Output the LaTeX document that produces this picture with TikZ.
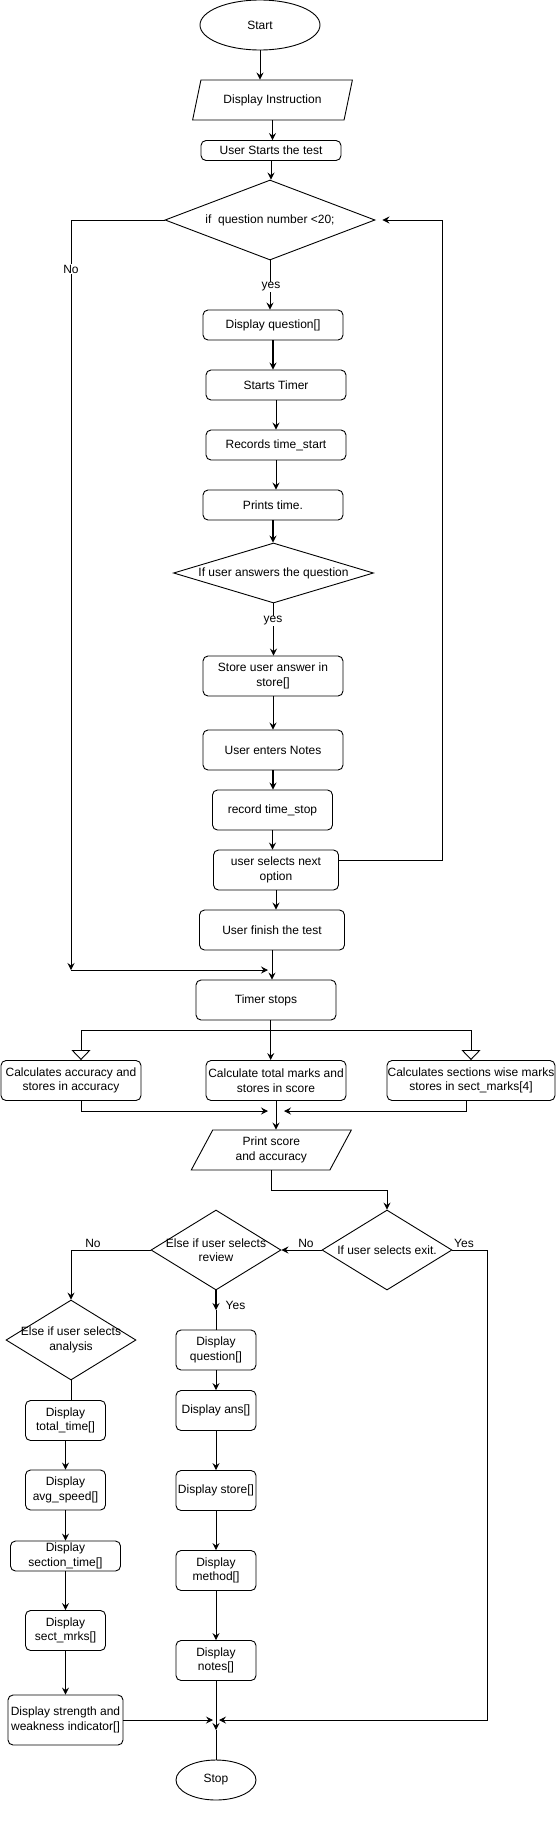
\documentclass[tikz,border=0pt]{standalone}
\usepackage{fontspec}
\setmainfont{Liberation Sans}
\usetikzlibrary{shapes.geometric, arrows.meta}

\begin{document}
\begin{tikzpicture}[
    x=1pt, y=-1pt,
    line width=0.9pt,
    every node/.append style={font=\fontsize{12pt}{14.5pt}\selectfont},
    every label/.append style={align=center},
    startstop/.style={draw, ellipse, inner sep=0pt},
    process/.style={draw, rounded corners=5pt, align=center, inner sep=0pt},
    io/.style={draw, trapezium, trapezium stretches=true, trapezium left angle=63, trapezium right angle=117, align=center, inner sep=0pt},
    decision/.style={draw, diamond, inner sep=0pt},
    arrow/.style={draw, -{Stealth[length=7pt, width=7pt, inset=2.5pt]}},
    thickarrow/.style={arrow, line width=1.6pt},
    openarrow/.style={draw, -{Triangle[open, length=10pt, width=19pt]}},
    edgelabel/.style={fill=white, inner sep=1pt}
]
    % Page
    \fill[white] (0,0) rectangle (556,1829);
    \useasboundingbox (0,0) rectangle (556,1829);

    % Define columns
    \def\mainX{273}
    \def\revX{216}
    \def\anaX{65.5}

    % Main column
    \node[startstop, minimum width=120pt, minimum height=50pt] (start) at (260,25) {Start};
    \node[io, minimum width=160pt, minimum height=40pt] (instr) at (272.5,100) {Display Instruction};
    \node[process, minimum width=140pt, minimum height=20pt] (ustart) at (271,150.5) {User Starts the test};
    \node[decision, minimum width=210pt, minimum height=80pt, label={center:{if\ \ question number <20;}}] (qnum) at (270,220) {};
    \node[process, minimum width=140pt, minimum height=30pt] (dispq) at (\mainX,325) {Display question[]};
    \node[process, minimum width=140pt, minimum height=30pt] (stimer) at (276,385) {Starts Timer};
    \node[process, minimum width=140pt, minimum height=30pt] (rstart) at (276,445) {Records time\_start};
    \node[process, minimum width=140pt, minimum height=30pt] (prints) at (\mainX,505) {Prints time.};
    \node[decision, minimum width=200pt, minimum height=60pt, label={center:If user answers the question}] (qans) at (273.5,573) {};
    \node[process, minimum width=140pt, minimum height=40pt] (store) at (\mainX,676) {Store user answer in\\store[]};
    \node[process, minimum width=140pt, minimum height=40pt] (unotes) at (\mainX,750) {User enters Notes};
    \node[process, minimum width=120pt, minimum height=40pt] (rstop) at (272.5,810) {record time\_stop};
    \node[process, minimum width=125pt, minimum height=40pt] (unext) at (276,870) {user selects next\\option};
    \node[process, minimum width=145pt, minimum height=40pt] (finish) at (272,930) {User finish the test};
    \node[process, minimum width=140pt, minimum height=40pt] (tstop) at (266,1000) {Timer stops};

    % Calculations
    \node[process, minimum width=140pt, minimum height=40pt] (cacc) at (71,1080.5) {Calculates accuracy and\\stores in accuracy};
    \node[process, minimum width=140pt, minimum height=40pt] (ctot) at (276,1080.5) {Calculate total marks and\\stores in score};
    \node[process, minimum width=168pt, minimum height=40pt] (csec) at (471,1080.5) {Calculates sections wise marks\\stores in sect\_marks[4]};
    \node[io, minimum width=161pt, minimum height=40pt] (pscore) at (271.3,1150) {Print score\\and accuracy};

    % Menu decisions
    \node[decision, minimum width=130pt, minimum height=80pt, label={center:If user selects exit.}] (qexit) at (387,1250) {};
    \node[decision, minimum width=130pt, minimum height=80pt, label={center:Else if user selects\\review}] (qreview) at (\revX,1250) {};
    \node[decision, minimum width=130pt, minimum height=80pt, label={center:Else if user selects\\analysis}] (qanalysis) at (71,1340) {};

    % Review column
    \node[process, minimum width=80pt, minimum height=40pt] (dq2) at (\revX,1350) {Display\\question[]};
    \node[process, minimum width=80pt, minimum height=40pt] (dans) at (\revX,1410.5) {Display ans[]};
    \node[process, minimum width=80pt, minimum height=40pt] (dstore) at (\revX,1490.5) {Display store[]};
    \node[process, minimum width=80pt, minimum height=40pt] (dmethod) at (\revX,1570.5) {Display\\method[]};
    \node[process, minimum width=80pt, minimum height=40pt] (dnotes) at (\revX,1660.5) {Display\\notes[]};
    \node[startstop, minimum width=80pt, minimum height=40pt] (stop) at (\revX,1780) {Stop};

    % Analysis column
    \node[process, minimum width=80pt, minimum height=40pt] (dtotal) at (\anaX,1420.5) {Display\\total\_time[]};
    \node[process, minimum width=80pt, minimum height=40pt] (davg) at (\anaX,1490) {Display\\avg\_speed[]};
    \node[process, minimum width=110pt, minimum height=30pt] (dsect) at (\anaX,1556) {Display\\section\_time[]};
    \node[process, minimum width=80pt, minimum height=40pt] (dmrks) at (\anaX,1630.5) {Display\\sect\_mrks[]};
    \node[process, minimum width=115pt, minimum height=50pt] (dstrength) at (\anaX,1720) {Display strength and\\weakness indicator[]};

    % Free ends of connectors
    \coordinate (noleft) at (71,970);
    \coordinate (mergeA) at (268,970);
    \coordinate (tjoin) at (270.7,1030);
    \coordinate (mergeL) at (268,1111);
    \coordinate (mergeR) at (284,1111);
    \coordinate (revyes) at (\revX,1310);
    \coordinate (stopL) at (213,1720);
    \coordinate (stopR) at (219,1720);
    \coordinate (stopT) at (\revX,1730);

    % Main flow
    \draw[arrow] (start.south) -- (start.south |- instr.north);
    \foreach \a/\b in {instr/ustart, ustart/qnum, qnum/dispq, stimer/rstart, rstart/prints, qans/store, store/unotes, unext/finish, finish/tstop} {
        \draw[arrow] (\a.south) -- (\a.south |- \b.north);
    }
    \foreach \a/\b in {dispq/stimer, prints/qans, unotes/rstop, rstop/unext} {
        \draw[thickarrow] (\a.south) -- (\a.south |- \b.north);
    }
    \node[edgelabel] (yesnum) at (271,287) {yes};
    \node[edgelabel] (yesans) at (\mainX,621) {yes};

    % Loop back to question check
    \draw[arrow] ([yshift=10pt]unext.east) -- ++(103,0) |- ([xshift=7pt]qnum.east);

    % No more questions
    \draw[arrow] (qnum.west) -| (noleft);
    \draw[arrow] (noleft) -- (mergeA);
    \node[edgelabel] (nonum) at (71,269) {No};

    % Split after timer stops
    \draw (tjoin |- tstop.south) -- (tjoin);
    \draw[openarrow] (tjoin) -| ([xshift=10pt]cacc.north);
    \draw[openarrow] (tjoin) -| (csec.north);
    \draw[arrow] (tjoin) -- (tjoin |- ctot.north);

    % Merge into print
    \draw[arrow] ([xshift=10pt]cacc.south) |- (mergeL);
    \draw[arrow] ([xshift=-4.6pt]csec.south) |- (mergeR);
    \draw[arrow] (ctot.south) -- (ctot.south |- pscore.north);

    % Menu
    \draw[arrow] (pscore.south) -- ++(0,20) -| (qexit.north);
    \draw[arrow] (qexit.west) -- (qreview.east);
    \draw[arrow] (qexit.east) -- ++(35,0) |- (stopR);
    \node (noexit) at (306,1243) {No};
    \node (yesexit) at (464,1243) {Yes};
    \draw[arrow] (qreview.west) -| (qanalysis.north);
    \node (noreview) at (93,1243) {No};
    \draw[thickarrow] (qreview.south) -- (revyes);
    \draw (revyes) -- (dq2.north);
    \node (yesreview) at (235.5,1305) {Yes};

    % Review column arrows
    \foreach \a/\b in {dq2/dans, dans/dstore, dstore/dmethod, dmethod/dnotes} {
        \draw[arrow] (\a.south) -- (\b.north);
    }
    \draw[arrow] (dnotes.south) -- (stopT);
    \draw (stopT) -- (stop.north);

    % Analysis column arrows
    \draw (qanalysis.south) -- (qanalysis.south |- dtotal.north);
    \foreach \a/\b in {dtotal/davg, davg/dsect, dsect/dmrks, dmrks/dstrength} {
        \draw[arrow] (\a.south) -- (\a.south |- \b.north);
    }
    \draw[arrow] (dstrength.east) -- (stopL);

\end{tikzpicture}
\end{document}
